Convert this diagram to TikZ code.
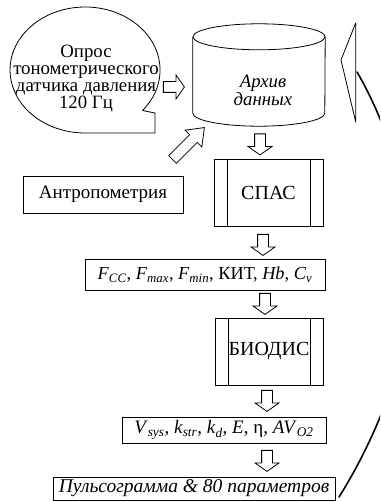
\documentclass[tikz,border=0pt]{standalone}
\usepackage{fontspec}
\setmainfont{Liberation Serif}
\usepackage{tikz}
\usetikzlibrary{calc, positioning, shapes.arrows}
\newcommand{\sbs}[2]{\textit{#1}\textsubscript{\textit{#2}}}
\tikzset{%
  plain_block/.style={%
    rectangle,%
    draw=black,%
    line width=0.8pt,%
    inner sep=0pt,%
    font={\fontsize{19}{17}\selectfont},%
    align=center%
  },
  free_text/.style={%
    inner sep=0pt,%
    font={\fontsize{18.8}{17}\selectfont},%
    align=center%
  },
  outline_path/.style={%
    draw=black,%
    line width=0.8pt,%
    line join=round%
  },
  block_arrow/.style={%
    single arrow,%
    draw=black,%
    line width=0.8pt,%
    inner sep=5pt,%
    minimum height=21pt,%
    single arrow head extend=6.5pt,%
    single arrow tip angle=110%
  },
  back_path/.style={%
    draw=black,%
    line width=1.6pt,%
    line cap=round%
  },
}
\begin{document}
\begin{tikzpicture}[x=1pt, y=1pt]
  \useasboundingbox (0,0) rectangle (380,-502);
  \clip (0,0) rectangle (380,-502);

  % magnetic tape bubble
  \draw [outline_path]
    (142.5,-110.5) arc [start angle=-40, end angle=270, x radius=75, y radius=63]
    -- (155,-133) -- (155,-113) -- cycle;
  \node [free_text] (Poll) at (86,-79)
    {Опрос\\тонометрического\\датчика давления\\120 Гц};

  % archive
  \node [minimum width=132pt, minimum height=76pt, inner sep=0pt] (Archive) at (259,-75) {};
  \draw [outline_path]
    (Archive.north west) -- (Archive.south west)
    arc [start angle=180, end angle=360, x radius=66, y radius=13]
    -- (Archive.north east);
  \draw [outline_path] (Archive.north) ellipse [x radius=66, y radius=13];
  \node [free_text, font={\fontsize{18.8}{16}\selectfont\itshape}] (ArchiveText)
    at ($(Archive.center)+(4,-15)$) {Архив\\данных};

  \node [plain_block, minimum width=160pt, minimum height=37pt] (Anthro) at (103,-194.5) {Антропометрия};
  \node [plain_block, minimum width=109pt, minimum height=67pt,
    font={\fontsize{20}{17}\selectfont}] (Spas) at (268.5,-192.5) {СПАС};
  \node [plain_block, minimum width=240pt, minimum height=31pt,
    font={\fontsize{18.3}{17}\selectfont}] (Fpar) at (205,-274.5)
    {\sbs{F}{CC}, \sbs{F}{max}, \sbs{F}{min}, КИТ, \textit{Hb}, \sbs{C}{v}};
  \node [plain_block, minimum width=108pt, minimum height=67pt,
    font={\fontsize{20}{17}\selectfont}] (Biodis) at (269,-351.5) {БИОДИС};
  \node [plain_block, minimum width=204pt, minimum height=26pt] (Vpar) at (224,-430)
    {\sbs{V}{sys}, \sbs{k}{str}, \sbs{k}{d}, \textit{E}, η, \sbs{AV}{O2}};
  \node [plain_block, minimum width=282pt, minimum height=23pt,
    font={\fontsize{19.5}{17}\selectfont\itshape}] (Result) at (194,-488.5)
    {Пульсограмма \& 80 параметров};

  \foreach \blk in {Spas, Biodis} {
    \draw [outline_path] ($(\blk.north west)+(14,0)$) -- ($(\blk.south west)+(14,0)$);
    \draw [outline_path] ($(\blk.north east)+(-13,0)$) -- ($(\blk.south east)+(-13,0)$);
  }

  % block arrows
  \node [block_arrow] (ArrPoll) at (172,-87) {};
  \node [block_arrow, minimum height=45pt, single arrow tip angle=75,
    rotate=45] (ArrAnthro) at (186,-146) {};
  \node [block_arrow, rotate=-90] (ArrArch) at (260,-142.5) {};
  \node [block_arrow, rotate=-90] (ArrSpas) at (263,-243) {};
  \node [block_arrow, rotate=-90] (ArrFpar) at (265,-302) {};
  \node [block_arrow, rotate=-90] (ArrBio) at (267,-399) {};
  \node [block_arrow, rotate=-90] (ArrVpar) at (267,-459) {};

  % return arrow
  \coordinate (back_tip) at (341,-60);
  \coordinate (back_start) at (357,-72);
  \coordinate (back_end) at (339,-497);
  \draw [outline_path] (355.7,-23) -- (back_tip) -- (355.7,-122) -- cycle;
  \draw [back_path]
    (back_start) .. controls (388,-125) and (412,-200) .. (412,-280)
    .. controls (412,-345) and (380,-432) .. (back_end);
\end{tikzpicture}
\end{document}
